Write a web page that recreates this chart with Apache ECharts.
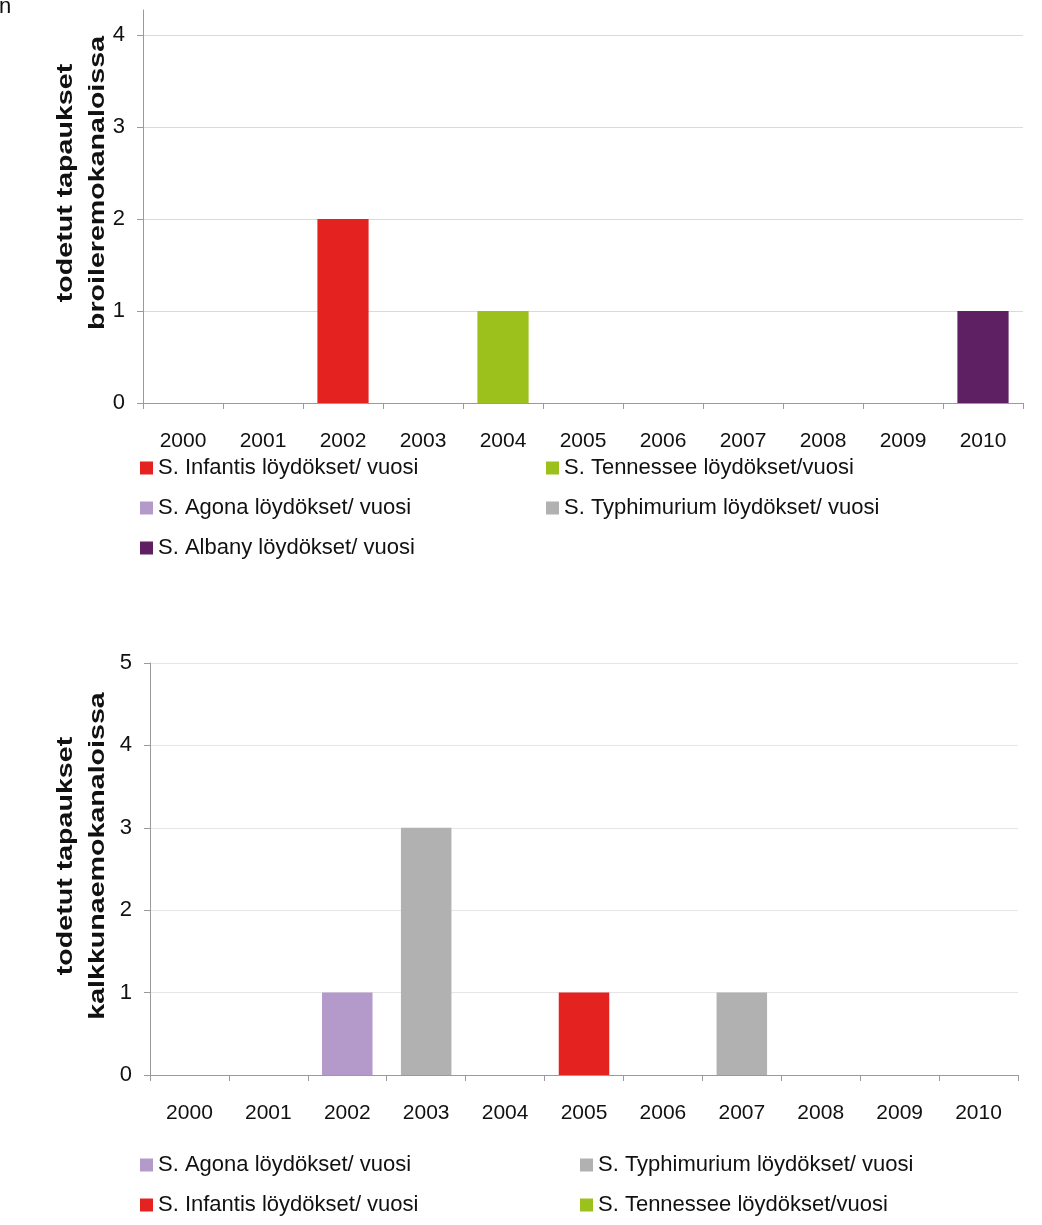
<!DOCTYPE html>
<html>
<head>
<meta charset="utf-8">
<script src="https://cdn.jsdelivr.net/npm/echarts@6.0.0/dist/echarts.min.js"></script>
<style>
  html, body { margin: 0; padding: 0; background: #fff; }
  #myChart { width: 1042px; height: 1225px; }
</style>
</head>
<body>
<div id="myChart"></div>
<script>
// vuodet
const years = ['2000', '2001', '2002', '2003', '2004', '2005', '2006', '2007', '2008', '2009', '2010'];

// broileremokanalat
const broilerInfantis = [0, 0, 2, 0, 0, 0, 0, 0, 0, 0, 0];
const broilerTennessee = [0, 0, 0, 0, 1, 0, 0, 0, 0, 0, 0];
const broilerAgona = [0, 0, 0, 0, 0, 0, 0, 0, 0, 0, 0];
const broilerTyphimurium = [0, 0, 0, 0, 0, 0, 0, 0, 0, 0, 0];
const broilerAlbany = [0, 0, 0, 0, 0, 0, 0, 0, 0, 0, 1];

// kalkkunaemokanalat
const turkeyAgona = [0, 0, 1, 0, 0, 0, 0, 0, 0, 0, 0];
const turkeyTyphimurium = [0, 0, 0, 3, 0, 0, 0, 1, 0, 0, 0];
const turkeyInfantis = [0, 0, 0, 0, 0, 1, 0, 0, 0, 0, 0];
const turkeyTennessee = [0, 0, 0, 0, 0, 0, 0, 0, 0, 0, 0];

const topTicks = [0, 1, 2, 3, 4];
const bottomTicks = [0, 1, 2, 3, 4, 5];

const INFANTIS = 'S. Infantis löydökset/ vuosi';
const TENNESSEE = 'S. Tennessee löydökset/vuosi';
const AGONA = 'S. Agona löydökset/ vuosi';
const TYPHI = 'S. Typhimurium löydökset/ vuosi';
const ALBANY = 'S. Albany löydökset/ vuosi';

const colors = {};
colors[INFANTIS] = '#E42320';
colors[TENNESSEE] = '#9DC11C';
colors[AGONA] = '#B39ACB';
colors[TYPHI] = '#B1B1B1';
colors[ALBANY] = '#5F1F63';

const font = '"Liberation Sans", Arial, sans-serif';

function bar(name, data, idx) {
  return {
    name: name,
    type: 'bar',
    stack: 'g' + idx,
    xAxisIndex: idx,
    yAxisIndex: idx,
    barWidth: '64%',
    itemStyle: { color: colors[name] },
    data: data
  };
}

function xAxis(idx) {
  return {
    type: 'category',
    gridIndex: idx,
    data: years,
    axisLine: { lineStyle: { color: '#9a9a9a', width: 1 } },
    axisTick: { show: true, length: 6, lineStyle: { color: '#9a9a9a' } },
    axisLabel: { color: '#111', fontSize: 21, fontFamily: font, margin: 28 },
    splitLine: { show: false }
  };
}

function yAxis(idx, ticks, top) {
  return {
    type: 'value',
    gridIndex: idx,
    min: 0,
    max: top,
    axisLine: { show: true, lineStyle: { color: '#9a9a9a', width: 1 } },
    axisTick: { show: true, length: 6, customValues: ticks, lineStyle: { color: '#9a9a9a' } },
    axisLabel: { color: '#111', fontSize: 22, fontFamily: font, margin: 18, customValues: ticks },
    splitLine: { show: true, lineStyle: { color: idx === 0 ? '#dadada' : '#e6e6e6', width: 1 } }
  };
}

function legend(names, top, left, textWidth, gap) {
  return {
    data: names.map(function (n) { return { name: n, icon: 'rect' }; }),
    top: top,
    left: left,
    padding: 0,
    width: 2 * (13 + 5 + textWidth) + gap + 6,
    orient: 'horizontal',
    itemWidth: 13,
    itemHeight: 13,
    itemGap: gap,
    selectedMode: false,
    textStyle: { color: '#111', fontSize: 22, fontFamily: font, width: textWidth, lineHeight: 22 }
  };
}

function yTitle(text, x, y) {
  return {
    type: 'text',
    x: x,
    y: y,
    rotation: Math.PI / 2,
    scaleX: 1.3,
    style: {
      text: text,
      x: 0,
      y: 0,
      align: 'center',
      verticalAlign: 'middle',
      fill: '#111',
      font: 'bold 22px ' + font,
      lineHeight: 32
    }
  };
}

let myChart = echarts.init(document.getElementById('myChart'), null, { renderer: 'canvas' });
let option = {
  animation: false,
  backgroundColor: '#fff',
  grid: [
    { left: 143, right: 19, top: 10, bottom: 822 },
    { left: 150, right: 24, top: 663, bottom: 150 }
  ],
  xAxis: [xAxis(0), xAxis(1)],
  yAxis: [
    yAxis(0, topTicks, 4.27),
    yAxis(1, bottomTicks, 5)
  ],
  legend: [
    legend([INFANTIS, TENNESSEE, AGONA, TYPHI, ALBANY], 457, 140, 370, 18),
    legend([AGONA, TYPHI, INFANTIS, TENNESSEE], 1154, 140, 404, 18)
  ],
  graphic: [
    { type: 'text', x: -1, y: -4, style: { text: 'n', font: '22px ' + font, fill: '#111' } },
    yTitle('todetut tapaukset\nbroileremokanaloissa', 82, 183),
    yTitle('todetut tapaukset\nkalkkunaemokanaloissa', 82, 856)
  ],
  series: [
    bar(INFANTIS, broilerInfantis, 0),
    bar(TENNESSEE, broilerTennessee, 0),
    bar(AGONA, broilerAgona, 0),
    bar(TYPHI, broilerTyphimurium, 0),
    bar(ALBANY, broilerAlbany, 0),
    bar(AGONA, turkeyAgona, 1),
    bar(TYPHI, turkeyTyphimurium, 1),
    bar(INFANTIS, turkeyInfantis, 1),
    bar(TENNESSEE, turkeyTennessee, 1)
  ]
};
myChart.setOption(option);
</script>
</body>
</html>
